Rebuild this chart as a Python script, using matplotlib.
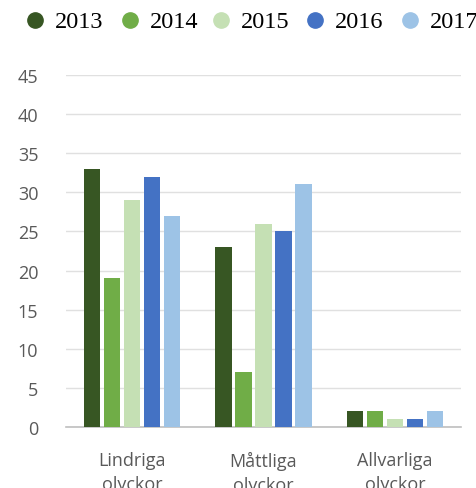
import numpy as np
import matplotlib.pyplot as plt
from matplotlib.lines import Line2D

categories = ["Lindriga\nolyckor", "Måttliga\nolyckor", "Allvarliga\nolyckor"]
years = ["2013", "2014", "2015", "2016", "2017"]
values = {
    "2013": [33, 23, 2],
    "2014": [19, 7, 2],
    "2015": [29, 26, 1],
    "2016": [32, 25, 1],
    "2017": [27, 31, 2],
}
colors = ["#375623", "#70AD47", "#C5E0B4", "#4472C4", "#9DC3E6"]

W, H = 476, 489
fig = plt.figure(figsize=(W / 100, H / 100), dpi=100)
ax = fig.add_axes([0.139, 0.1247, 0.829, 0.72])

x = np.arange(len(categories))
pitch = 0.152
width = 0.125
for i, (yr, c) in enumerate(zip(years, colors)):
    ax.bar(x + (i - 2) * pitch, values[yr], width, color=c, zorder=3)

ax.set_xlim(-0.5, 2.5)
ax.set_ylim(0, 45)
ax.set_yticks(range(0, 46, 5))
ax.set_xticks(x)
ax.set_xticklabels(categories, linespacing=1.45)
ax.grid(axis="y", color="#e0e0e0", linewidth=1, zorder=0)
for s in ["top", "right", "left"]:
    ax.spines[s].set_visible(False)
ax.spines["bottom"].set_color("#bfbfbf")
ax.spines["bottom"].set_linewidth(1.2)
ax.tick_params(axis="both", length=0, labelsize=13, labelcolor="#595959",
               labelfontfamily="Open Sans")
ax.tick_params(axis="y", pad=20)
ax.tick_params(axis="x", pad=17)

# legend row along the top, placed by hand
leg_x = [35, 130, 221, 315, 410]
leg_y = 1 - 21 / H
for px, yr, c in zip(leg_x, years, colors):
    fig.add_artist(Line2D([px / W], [leg_y], marker="o", linestyle="",
                          markersize=11, markerfacecolor=c, markeredgecolor=c,
                          transform=fig.transFigure))
    fig.text((px + 20) / W, leg_y - 1.5 / H, yr, va="center", ha="left",
             family="Liberation Serif", fontsize=17.5, color="black")

fig.savefig("out.png", dpi=100)
